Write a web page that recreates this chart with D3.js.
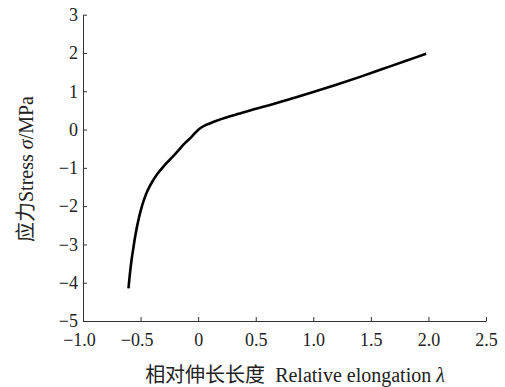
<!DOCTYPE html>
<html>
<head>
<meta charset="utf-8">
<script src="https://cdn.jsdelivr.net/npm/d3@7"></script>
<style>
  html, body { margin: 0; padding: 0; background: #fff; }
  svg text { font-family: "Liberation Serif", "Times New Roman", serif; fill: #222; }
  .cjk { font-family: "Noto Sans CJK SC", sans-serif; }
</style>
</head>
<body>
<svg id="chart" width="505" height="387"></svg>
<script>
// Stress–elongation curve
const elongation = [-0.605, -0.592, -0.578, -0.562, -0.545, -0.525, -0.50, -0.47, -0.44, -0.40,
  -0.35, -0.30, -0.25, -0.20, -0.15, -0.11, -0.07, -0.03, 0.015, 0.06, 0.10, 0.16, 0.25, 0.35,
  0.45, 0.6, 0.8, 1.0, 1.2, 1.4, 1.6, 1.8, 1.98];
const stress = [-4.15, -3.75, -3.40, -3.08, -2.76, -2.45, -2.13, -1.83, -1.60, -1.37,
  -1.14, -0.96, -0.80, -0.64, -0.47, -0.34, -0.23, -0.10, 0.03, 0.11, 0.16, 0.23, 0.32, 0.41,
  0.50, 0.62, 0.80, 0.98, 1.17, 1.37, 1.58, 1.79, 1.98];

const xTicks = [-1.0, -0.5, 0, 0.5, 1.0, 1.5, 2.0, 2.5];
const xTickLabels = ["\u22121.0", "\u22120.5", "0", "0.5", "1.0", "1.5", "2.0", "2.5"];
const yTicks = [3, 2, 1, 0, -1, -2, -3, -4, -5];
const yTickLabels = ["3", "2", "1", "0", "\u22121", "\u22122", "\u22123", "\u22124", "\u22125"];

const svg = d3.select("#chart");
const plotLeft = 83, plotRight = 486, plotTop = 14.7, plotBottom = 321;

const x = d3.scaleLinear().domain([-1.0, 2.5]).range([plotLeft, plotRight]);
const y = d3.scaleLinear().domain([-5, 3]).range([plotBottom, plotTop]);

// x axis, ticks pointing inward
const xAxis = svg.append("g")
  .attr("transform", `translate(0,${plotBottom})`)
  .call(d3.axisBottom(x).tickValues(xTicks).tickSizeInner(-4).tickSizeOuter(0)
    .tickFormat((d, i) => xTickLabels[i]));
xAxis.selectAll("text")
  .attr("font-size", 18).attr("dy", 0).attr("y", 25)
  .attr("dx", d => d < 0 ? -4 : 0)
  .style("font-family", "Liberation Serif, serif").attr("fill", "#222");

// y axis, ticks pointing inward
const yAxis = svg.append("g")
  .attr("transform", `translate(${plotLeft},0)`)
  .call(d3.axisLeft(y).tickValues(yTicks).tickSizeInner(-4).tickSizeOuter(0)
    .tickFormat((d, i) => yTickLabels[i]));
yAxis.selectAll("text").attr("font-size", 18).attr("x", -5)
  .style("font-family", "Liberation Serif, serif").attr("fill", "#222");

svg.selectAll(".domain, .tick line").attr("stroke", "#333").attr("stroke-width", 1);

// curve
const pts = elongation.map((v, i) => [v, stress[i]]);
svg.append("path")
  .datum(pts)
  .attr("fill", "none")
  .attr("stroke", "#000")
  .attr("stroke-width", 2.6)
  .attr("stroke-linejoin", "round")
  .attr("stroke-linecap", "butt")
  .attr("d", d3.line().x(d => x(d[0])).y(d => y(d[1])).curve(d3.curveCatmullRom.alpha(0.5)));

// x axis title
const xt = svg.append("text")
  .attr("x", 295).attr("y", 382)
  .attr("text-anchor", "middle")
  .attr("font-size", 20);
xt.append("tspan").attr("class", "cjk").text("相对伸长长度");
xt.append("tspan").text("\u2002Relative elongation ");
xt.append("tspan").attr("font-style", "italic").text("λ");

// y axis title
const yt = svg.append("text")
  .attr("transform", "translate(33,169) rotate(-90)")
  .attr("text-anchor", "middle")
  .attr("font-size", 20);
yt.append("tspan").attr("class", "cjk").text("应力");
yt.append("tspan").text("Stress ");
yt.append("tspan").attr("font-style", "italic").text("σ");
yt.append("tspan").text("/MPa");
</script>
</body>
</html>
